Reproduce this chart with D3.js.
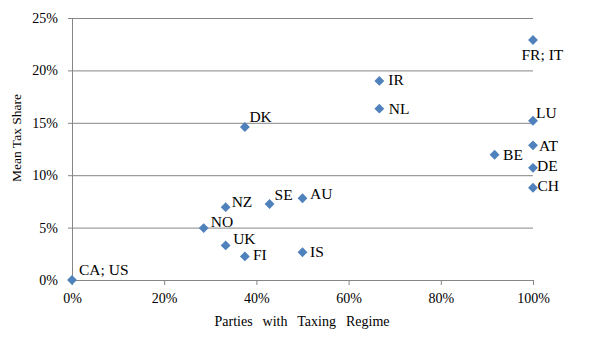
<!DOCTYPE html>
<html>
<head>
<meta charset="utf-8">
<script src="https://cdn.jsdelivr.net/npm/d3@7"></script>
<style>
  html, body { margin: 0; padding: 0; background: #fff; }
  svg text { font-family: "Liberation Serif", "Times New Roman", serif; }
</style>
</head>
<body>
<svg id="chart" width="600" height="337"></svg>
<script>
// Country codes, share of parties with a taxing regime, and mean tax share
const countries = ["CA; US", "NO", "NZ", "UK", "FI", "SE", "AU", "IS", "DK", "IR", "NL", "FR; IT", "LU", "AT", "BE", "DE", "CH"];
const partiesShare = [0, 0.2857, 0.3333, 0.3333, 0.375, 0.4286, 0.5, 0.5, 0.375, 0.6667, 0.6667, 1, 1, 1, 0.9167, 1, 1];
const meanTaxShare = [0, 0.0495, 0.0695, 0.0330, 0.0225, 0.0725, 0.0780, 0.0265, 0.1460, 0.1900, 0.1635, 0.2290, 0.1520, 0.1285, 0.1195, 0.1070, 0.0880];
// Label offsets [dx, dy] relative to each marker
const labelOffsets = [[7, -10], [7, -6.5], [6, -6], [7.5, -6.5], [8, -1.5], [5, -9], [7.5, -5], [7.5, -0.5], [4.5, -10.5], [9, -1], [9.5, 0], [-11.5, 15], [3, -8], [6, 0], [8.5, 0], [4, -2], [4.5, -2]];

const xTicks = [0, 0.2, 0.4, 0.6, 0.8, 1];
const yTicks = [0, 0.05, 0.10, 0.15, 0.20, 0.25];

const svg = d3.select("#chart");
const plotLeft = 72, plotRight = 533, plotTop = 18, plotBottom = 280;

const x = d3.scaleLinear().domain([0, 1]).range([plotLeft, plotRight]);
const y = d3.scaleLinear().domain([0, 0.25]).range([plotBottom, plotTop]);
const pct = d3.format(".0%");
const gridColor = "#868686";

// Horizontal gridlines with short ticks to the left of the y axis
const yAxis = d3.axisLeft(y).tickValues(yTicks).tickFormat(pct)
  .tickSize(-(plotRight - plotLeft)).tickSizeOuter(0).tickPadding(14);
const gy = svg.append("g").attr("transform", `translate(${plotLeft},0)`).call(yAxis);
gy.attr("font-family", null);
gy.select(".domain").attr("stroke", gridColor);
gy.selectAll(".tick line").attr("stroke", gridColor).attr("x1", -4);
gy.selectAll(".tick text").attr("font-size", 14).attr("fill", "#000");

// Bottom axis with downward tick marks
const xAxis = d3.axisBottom(x).tickValues(xTicks).tickFormat(pct)
  .tickSize(5).tickSizeOuter(0).tickPadding(8);
const gx = svg.append("g").attr("transform", `translate(0,${plotBottom})`).call(xAxis);
gx.attr("font-family", null);
gx.select(".domain").attr("stroke", gridColor);
gx.selectAll(".tick line").attr("stroke", gridColor);
gx.selectAll(".tick text").attr("font-size", 14).attr("fill", "#000");

// Axis titles
svg.append("text")
  .attr("x", 302).attr("y", 326)
  .attr("text-anchor", "middle").attr("font-size", 14)
  .attr("word-spacing", 6.5)
  .text("Parties with Taxing Regime");

svg.append("text")
  .attr("transform", "translate(21,138) rotate(-90)")
  .attr("text-anchor", "middle").attr("font-size", 13.5)
  .text("Mean Tax Share");

// Diamond markers
const data = countries.map((c, i) => ({ c, px: partiesShare[i], ts: meanTaxShare[i], off: labelOffsets[i] }));
const diamond = d3.symbol().type(d3.symbolDiamond2).size(62);

svg.append("g").selectAll("path").data(data).join("path")
  .attr("d", diamond)
  .attr("transform", d => `translate(${x(d.px)},${y(d.ts)})`)
  .attr("fill", "#4F81BD");

// Country labels
svg.append("g").selectAll("text").data(data).join("text")
  .attr("x", d => x(d.px) + d.off[0])
  .attr("y", d => y(d.ts) + d.off[1])
  .attr("dy", "0.35em")
  .attr("font-size", 15.5)
  .attr("fill", "#000")
  .text(d => d.c);
</script>
</body>
</html>
